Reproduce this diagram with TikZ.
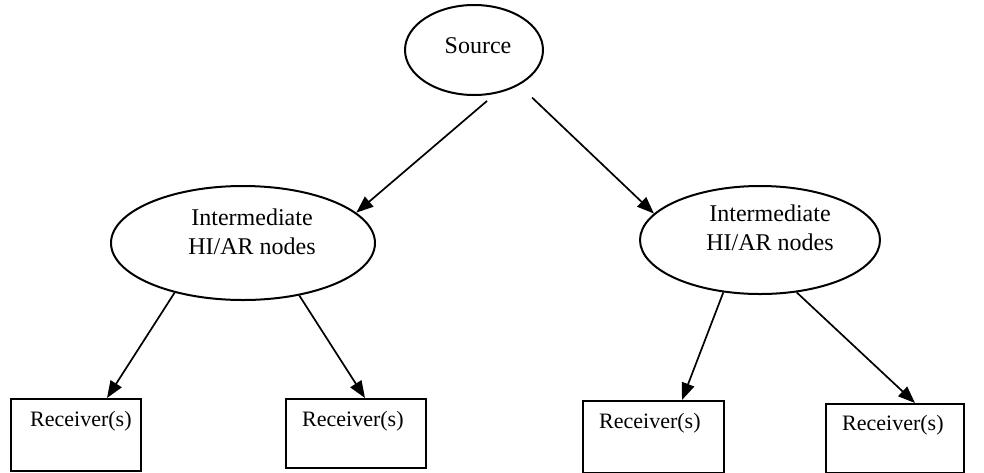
\documentclass[tikz,border=0pt]{standalone}
\usepackage{fontspec}
\setmainfont{Liberation Serif}
\usetikzlibrary{shapes.geometric,arrows.meta}
\begin{document}
\begin{tikzpicture}[x=1pt,y=-1pt,
  ell/.style={draw,line width=2pt,ellipse,inner sep=0pt},
  rbox/.style={draw,line width=2pt,rectangle,inner sep=0pt,anchor=north west},
  conn/.style={line width=1.7pt,-{Triangle[length=17pt,width=13pt]}},
  bigtxt/.style={font=\fontsize{24}{29}\selectfont,align=center,inner sep=0pt},
  smalltxt/.style={font=\fontsize{22}{26}\selectfont,inner sep=0pt,anchor=west}]
\useasboundingbox (0,0) rectangle (984,472);
% ellipses
\node[ell,minimum width=138pt,minimum height=90pt] (src) at (474,50) {};
\node[ell,minimum width=264pt,minimum height=114pt] (left) at (243,243) {};
\node[ell,minimum width=240pt,minimum height=108pt] (right) at (760,240) {};
\node[bigtxt] (srctxt) at (478,46) {Source};
\node[bigtxt] (lefttxt) at (252,232) {Intermediate\\HI/AR nodes};
\node[bigtxt] (righttxt) at (770,228) {Intermediate\\HI/AR nodes};
% boxes
\node[rbox,minimum width=130pt,minimum height=72pt] (b1) at (10,398) {};
\node[rbox,minimum width=140pt,minimum height=69pt] (b2) at (285,398) {};
\node[rbox,minimum width=141pt,minimum height=72pt] (b3) at (582,400) {};
\node[rbox,minimum width=138pt,minimum height=69pt] (b4) at (825,403) {};
\node[smalltxt] (b1t) at (30,421) {Receiver(s)};
\node[smalltxt] (b2t) at (302,421) {Receiver(s)};
\node[smalltxt] (b3t) at (599,423) {Receiver(s)};
\node[smalltxt] (b4t) at (842,425) {Receiver(s)};
% connectors
\draw[conn,shorten <=11pt] (src.-64) -- (left.15);
\draw[conn,shorten <=18pt] (src.-38) -- (right.166);
\draw[conn] (left.-144) -- (b1.north -| 107,0);
\draw[conn] (left.-43) -- (b2.north -| 365,0);
\draw[conn] (right.-125) -- (b3.north -| 682,0);
\draw[conn] (right.-55) -- (b4.north -| 915,0);
\end{tikzpicture}
\end{document}
